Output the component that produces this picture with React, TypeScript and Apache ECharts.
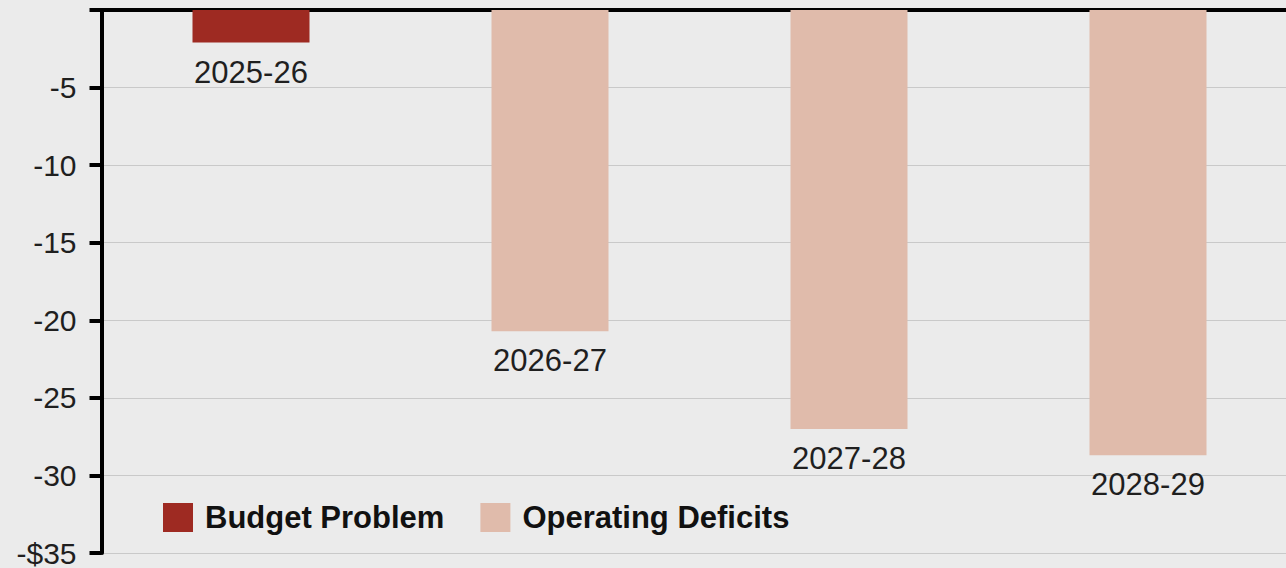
import React, { useEffect, useRef } from "react";
import * as echarts from "echarts";

const categories = ["2025-26", "2026-27", "2027-28", "2028-29"];
const budgetProblem = [-2.1, null, null, null];
const operatingDeficits = [null, -20.7, -27.0, -28.7];
const seriesNames = ["Budget Problem", "Operating Deficits"];

export default function App() {
  const ref = useRef<HTMLDivElement>(null);
  useEffect(() => {
    if (!ref.current) return;
    const chart = echarts.init(ref.current, null, { renderer: "svg" });
    const labelStyle = {
      show: true,
      position: "bottom" as const,
      distance: 14,
      formatter: "{b}",
      fontSize: 31,
      color: "#1f1f1f",
      fontFamily: "Liberation Sans, Arial, sans-serif",
    };
    chart.setOption({
      animation: false,
      backgroundColor: "#ebebeb",
      textStyle: { fontFamily: "Liberation Sans, Arial, sans-serif" },
      grid: { left: 101.5, top: 10, width: 1196, height: 545 },
      legend: {
        left: 163,
        top: 502,
        padding: 0,
        itemWidth: 30,
        itemHeight: 29,
        itemGap: 36,
        icon: "rect",
        data: seriesNames,
        textStyle: {
          fontSize: 31,
          fontWeight: "bold",
          color: "#111",
          padding: [0, 0, 0, 7],
        },
      },
      xAxis: {
        type: "category",
        position: "top",
        data: categories,
        axisLine: { show: true, onZero: false, lineStyle: { color: "#000", width: 4 } },
        axisTick: { show: false },
        axisLabel: { show: false },
        splitLine: { show: false },
      },
      yAxis: {
        type: "value",
        min: -35,
        max: 0,
        interval: 5,
        axisLine: { show: true, lineStyle: { color: "#000", width: 4 } },
        axisTick: { show: true, length: 12, lineStyle: { color: "#000", width: 4 } },
        axisLabel: {
          margin: 25,
          fontSize: 30,
          color: "#1f1f1f",
          formatter: (v: number) => (v === 0 ? "" : v === -35 ? "-$35" : String(v)),
        },
        splitLine: { show: true, lineStyle: { color: "#c9c9c9", width: 1 } },
      },
      series: [
        {
          name: seriesNames[0],
          type: "bar",
          data: budgetProblem,
          barWidth: 117,
          barGap: "-100%",
          itemStyle: { color: "#9e2a22" },
          label: labelStyle,
        },
        {
          name: seriesNames[1],
          type: "bar",
          data: operatingDeficits,
          barWidth: 117,
          barGap: "-100%",
          itemStyle: { color: "#e0bbab" },
          label: labelStyle,
        },
      ],
    });
    return () => chart.dispose();
  }, []);
  return (
    <div
      style={{ position: "fixed", left: 0, top: 0, width: 1286, height: 568, overflow: "hidden" }}
    >
      <div ref={ref} style={{ width: 1310, height: 568 }} />
    </div>
  );
}
